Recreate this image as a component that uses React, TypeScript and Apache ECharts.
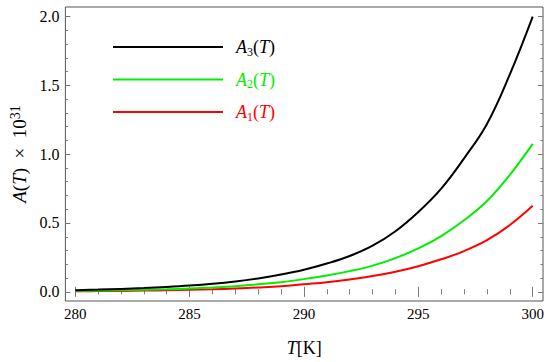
import React, { useEffect, useRef } from "react";
import * as echarts from "echarts";

const temps = [280, 281, 282, 283, 284, 285, 286, 287, 288, 289, 290, 291, 292, 293, 294, 295, 296, 297, 298, 299, 300];
const a1 = [0.004, 0.005, 0.0065, 0.0085, 0.011, 0.014, 0.018, 0.024, 0.031, 0.04, 0.055, 0.07, 0.09, 0.114, 0.146, 0.186, 0.236, 0.296, 0.375, 0.485, 0.625];
const a2 = [0.007, 0.009, 0.011, 0.014, 0.018, 0.024, 0.031, 0.04, 0.054, 0.07, 0.092, 0.118, 0.15, 0.19, 0.245, 0.315, 0.405, 0.52, 0.66, 0.85, 1.075];
const a3 = [0.012, 0.016, 0.021, 0.027, 0.035, 0.045, 0.058, 0.075, 0.097, 0.125, 0.16, 0.205, 0.26, 0.335, 0.44, 0.58, 0.75, 0.97, 1.22, 1.58, 2.0];

const seriesNames = ["A1", "A2", "A3"];
const seriesColors = ["#ff0000", "#00ee00", "#000000"];
const xMajor = [280, 285, 290, 295, 300];
const xMinor = [281, 282, 283, 284, 286, 287, 288, 289, 291, 292, 293, 294, 296, 297, 298, 299];
const yMajor = [0, 0.5, 1.0, 1.5, 2.0];
const yMinor = [0.1, 0.2, 0.3, 0.4, 0.6, 0.7, 0.8, 0.9, 1.1, 1.2, 1.3, 1.4, 1.6, 1.7, 1.8, 1.9];

const FONT = "serif";
const TICK_COLOR = "#777";

export default function App() {
  const ref = useRef<HTMLDivElement>(null);
  useEffect(() => {
    if (!ref.current) return;
    const chart = echarts.init(ref.current, undefined, { renderer: "svg" });
    const values = [a1, a2, a3];

    const xBase = {
      type: "value",
      min: 279.57,
      max: 300.45,
      axisLine: { show: false },
      splitLine: { show: false },
    };
    const yBase = {
      type: "value",
      min: -0.067,
      max: 2.07,
      axisLine: { show: false },
      splitLine: { show: false },
    };
    const tick = (vals: number[], len: number) => ({
      show: true,
      inside: true,
      length: len,
      customValues: vals,
      lineStyle: { color: TICK_COLOR, width: 1 },
    });

    const option: any = {
      animation: false,
      backgroundColor: "#fff",
      textStyle: { fontFamily: FONT },
      grid: {
        left: 51,
        right: 7,
        top: 7,
        bottom: 51,
        show: true,
        borderColor: "#555",
        borderWidth: 1,
        backgroundColor: "transparent",
      },
      xAxis: [
        {
          ...xBase,
          position: "bottom",
          axisTick: tick(xMajor, 5),
          axisLabel: {
            customValues: xMajor,
            margin: 5,
            fontFamily: FONT,
            fontSize: 15,
            color: "#000",
          },
          name: "{i|T}{n|[K]}",
          nameLocation: "middle",
          nameGap: 38,
          nameTextStyle: {
            rich: {
              i: { fontFamily: FONT, fontStyle: "italic", fontSize: 18, color: "#000" },
              n: { fontFamily: FONT, fontSize: 18, color: "#000" },
            },
          },
        },
        { ...xBase, position: "bottom", axisTick: tick(xMinor, 2.5), axisLabel: { show: false } },
        { ...xBase, position: "top", axisTick: tick(xMajor, 5), axisLabel: { show: false } },
        { ...xBase, position: "top", axisTick: tick(xMinor, 2.5), axisLabel: { show: false } },
      ],
      yAxis: [
        {
          ...yBase,
          position: "left",
          axisTick: tick(yMajor, 5),
          axisLabel: {
            customValues: yMajor,
            margin: 6,
            fontFamily: FONT,
            fontSize: 16,
            color: "#000",
            formatter: (v: number) => v.toFixed(1),
          },
          name: "{i|A}{n|(}{i|T}{n|)  ×  10}{s|31}",
          nameLocation: "middle",
          nameRotate: 90,
          nameGap: 30,
          nameTextStyle: {
            rich: {
              i: { fontFamily: FONT, fontStyle: "italic", fontSize: 19, color: "#000", lineHeight: 22 },
              n: { fontFamily: FONT, fontSize: 19, color: "#000", lineHeight: 22 },
              s: { fontFamily: FONT, fontSize: 14, color: "#000", verticalAlign: "top", lineHeight: 22 },
            },
          },
        },
        { ...yBase, position: "left", axisTick: tick(yMinor, 2.5), axisLabel: { show: false } },
        { ...yBase, position: "right", axisTick: tick(yMajor, 5), axisLabel: { show: false } },
        { ...yBase, position: "right", axisTick: tick(yMinor, 2.5), axisLabel: { show: false } },
      ],
      legend: {
        show: true,
        orient: "vertical",
        left: 108,
        top: 33,
        itemWidth: 110,
        itemHeight: 2,
        itemGap: 13,
        icon: "rect",
        data: [
          { name: "A3", textStyle: { color: seriesColors[2] } },
          { name: "A2", textStyle: { color: seriesColors[1] } },
          { name: "A1", textStyle: { color: seriesColors[0] } },
        ],
        formatter: (name: string) => `{p|}{i|A}{s|${name.slice(1)}}{n|(}{i|T}{n|)}`,
        textStyle: {
          fontFamily: FONT,
          rich: {
            p: { width: 8 },
            i: { fontFamily: FONT, fontStyle: "italic", fontSize: 18, lineHeight: 21 },
            n: { fontFamily: FONT, fontSize: 18, lineHeight: 21 },
            s: { fontFamily: FONT, fontSize: 12, verticalAlign: "bottom", lineHeight: 21 },
          },
        },
      },
      series: values.map((vals, k) => ({
        name: seriesNames[k],
        type: "line",
        xAxisIndex: 0,
        yAxisIndex: 0,
        data: temps.map((t, i) => [t, vals[i]]),
        smooth: 0.4,
        showSymbol: false,
        symbol: "none",
        lineStyle: { color: seriesColors[k], width: 2 },
        itemStyle: { color: seriesColors[k] },
        z: 3 + k,
      })),
    };
    chart.setOption(option);
    return () => chart.dispose();
  }, []);
  return (
    <div
      ref={ref}
      style={{ width: 550, height: 362, position: "absolute", left: 0, top: 0 }}
    />
  );
}
